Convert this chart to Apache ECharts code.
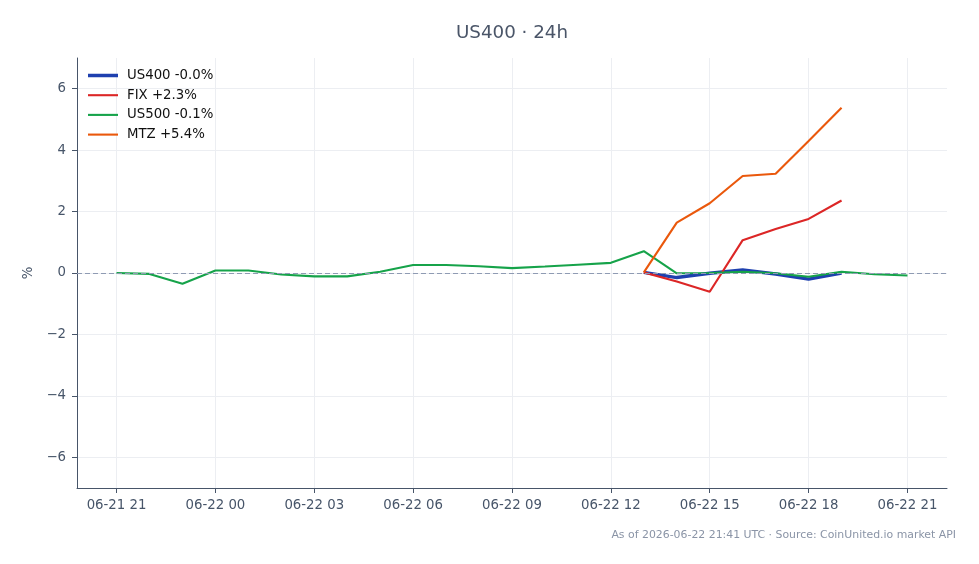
<!DOCTYPE html>
<html>
<head>
<meta charset="utf-8">
<script src="https://cdn.jsdelivr.net/npm/echarts@6/dist/echarts.min.js"></script>
<style>
  html, body { margin: 0; padding: 0; background: #fff; }
  #main { width: 979px; height: 564px; }
</style>
</head>
<body>
<div id="main"></div>
<script>
var myChart = echarts.init(document.getElementById('main'));

// hourly samples, 06-21 21:00 -> 06-22 21:00 UTC
var hours = ['06-21 21', '06-21 22', '06-21 23', '06-22 00', '06-22 01', '06-22 02', '06-22 03',
  '06-22 04', '06-22 05', '06-22 06', '06-22 07', '06-22 08', '06-22 09', '06-22 10', '06-22 11',
  '06-22 12', '06-22 13', '06-22 14', '06-22 15', '06-22 16', '06-22 17', '06-22 18', '06-22 19',
  '06-22 20', '06-22 21'];
// indexes into hours that get a tick (every 3h)
var tickPos = [0, 3, 6, 9, 12, 15, 18, 21, 24];
var yTicks = [-6, -4, -2, 0, 2, 4, 6];

var us400 = [null, null, null, null, null, null, null, null, null, null, null, null, null, null, null, null,
  0.02, -0.15, -0.01, 0.1, -0.03, -0.2, 0.0, null, null];
var fix = [null, null, null, null, null, null, null, null, null, null, null, null, null, null, null, null,
  0.02, -0.28, -0.61, 1.07, 1.43, 1.76, 2.36, null, null];
var us500 = [0.0, -0.03, -0.35, 0.08, 0.08, -0.05, -0.11, -0.11, 0.04, 0.26, 0.26, 0.22, 0.16, 0.21, 0.27,
  0.33, 0.71, -0.01, 0.0, 0.04, -0.01, -0.12, 0.04, -0.04, -0.08];
var mtz = [null, null, null, null, null, null, null, null, null, null, null, null, null, null, null, null,
  0.02, 1.64, 2.27, 3.16, 3.23, 4.3, 5.38, null, null];

var names = ['US400 -0.0%', 'FIX +2.3%', 'US500 -0.1%', 'MTZ +5.4%'];
var colors = ['#1e40af', '#dc2626', '#16a34a', '#ea580c'];
var widths = [3.5, 2.1, 2.1, 2.1];

function pairs(arr) {
  var out = [];
  for (var i = 0; i < arr.length; i++) {
    if (arr[i] !== null) out.push([i, arr[i]]);
  }
  return out;
}

var axisColor = '#475569';
var font = 'DejaVu Sans';

var series = [];
var legendData = [];
var sources = [us400, fix, us500, mtz];
for (var k = 0; k < sources.length; k++) {
  series.push({
    name: names[k],
    type: 'line',
    data: pairs(sources[k]),
    symbol: 'none',
    color: colors[k],
    lineStyle: { color: colors[k], width: widths[k] },
    animation: false
  });
  // 30-wide bar in a 34x4 box; invisible points fix the box size
  var h = widths[k] / 2;
  legendData.push({
    name: names[k],
    icon: 'path://M0,0L0,0M34,4L34,4M0,' + (2 - h) + 'H30V' + (2 + h) + 'H0Z'
  });
}
series[0].markLine = {
  silent: true,
  symbol: 'none',
  label: { show: false },
  lineStyle: { color: '#8f9bb3', type: [5, 3], width: 1 },
  data: [{ yAxis: 0 }]
};

var option = {
  backgroundColor: '#ffffff',
  animation: false,
  textStyle: { fontFamily: font },
  legend: {
    orient: 'vertical',
    left: 88,
    top: 69,
    padding: 0,
    itemWidth: 34,
    itemHeight: 4,
    itemGap: 6.7,
    textStyle: { color: '#111', fontSize: 13.3, fontFamily: font },
    data: legendData
  },
  grid: { left: 77, right: 32, top: 58, bottom: 76 },
  xAxis: {
    type: 'value',
    min: -1.2,
    max: 25.2,
    axisLine: { show: true, onZero: false, lineStyle: { color: axisColor, width: 1 } },
    axisTick: { show: true, customValues: tickPos, length: 5, lineStyle: { color: axisColor } },
    axisLabel: {
      customValues: tickPos,
      color: axisColor,
      fontSize: 13.3,
      margin: 11,
      formatter: function (v) { return hours[Math.round(v)]; }
    },
    splitLine: { show: true, lineStyle: { color: '#eceef2', width: 1 } }
  },
  yAxis: {
    type: 'value',
    min: -7,
    max: 7,
    name: '%',
    nameLocation: 'middle',
    nameGap: 35,
    nameRotate: 90,
    nameTextStyle: { color: axisColor, fontSize: 13.3, fontFamily: font },
    axisLine: { show: true, onZero: false, lineStyle: { color: axisColor, width: 1 } },
    axisTick: { show: true, customValues: yTicks, length: 5, lineStyle: { color: axisColor } },
    axisLabel: {
      customValues: yTicks,
      color: axisColor,
      fontSize: 13.3,
      margin: 11,
      formatter: function (v) { return v < 0 ? '\u2212' + Math.abs(v) : String(v); }
    },
    splitLine: { show: true, lineStyle: { color: '#eceef2', width: 1 } }
  },
  graphic: [{
    type: 'text',
    x: 512,
    y: 33,
    style: {
      text: 'US400 \u00b7 24h',
      fill: '#4a5568',
      fontSize: 18.3,
      fontFamily: font,
      align: 'center',
      verticalAlign: 'middle'
    }
  }, {
    type: 'text',
    right: 23,
    top: 530,
    style: {
      text: 'As of 2026-06-22 21:41 UTC \u00b7 Source: CoinUnited.io market API',
      fill: '#8a94a6',
      fontSize: 10.9,
      fontFamily: font
    }
  }],
  series: series
};

myChart.setOption(option);
window.onresize = function () {
  if (myChart) {
    myChart.resize();
  }
};
</script>
</body>
</html>
